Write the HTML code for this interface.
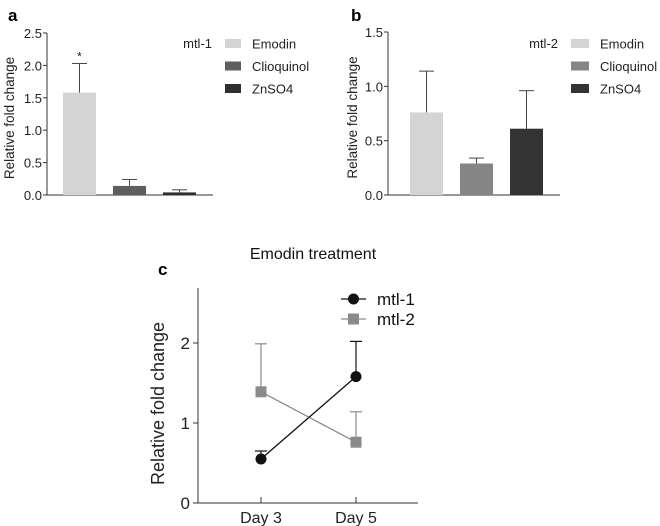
<!DOCTYPE html>
<html><head><meta charset="utf-8"><style>
html,body{margin:0;padding:0;background:#fff}
svg{display:block;font-family:"Liberation Sans",Arial,sans-serif}
</style></head><body>
<svg id="s" width="660" height="526" viewBox="0 0 660 526">
<text x="8" y="21" font-size="17" font-weight="bold">a</text>
<text x="351" y="21" font-size="17" font-weight="bold">b</text>
<text x="158" y="275" font-size="17" font-weight="bold">c</text>
<text x="313" y="259" font-size="16" text-anchor="middle" fill="#111">Emodin treatment</text>
</svg>
<script>
const NS="http://www.w3.org/2000/svg";
const svg=document.getElementById('s');
function mk(t,a,p){const e=document.createElementNS(NS,t);for(const k in a)e.setAttribute(k,a[k]);(p||svg).appendChild(e);return e;}

// Panel a data
const aCats=["Emodin","Clioquinol","ZnSO4"];
const aVals=[1.58,0.14,0.04];
const aErr=[2.03,0.24,0.08];
const aTicks=[0,0.5,1.0,1.5,2.0,2.5];
// Panel b data
const bCats=["Emodin","Clioquinol","ZnSO4"];
const bVals=[0.76,0.29,0.61];
const bErr=[1.14,0.34,0.96];
const bTicks=[0,0.5,1.0,1.5];
// Panel c data
const cCats=["Day 3","Day 5"];
const cMtl1=[0.55,1.58];
const cMtl1Err=[0.65,2.02];
const cMtl2=[1.39,0.76];
const cMtl2Err=[1.99,1.14];
const cTicks=[0,1,2];

function barPanel(o){
  const g=mk('g',{});
  
  
  const y=v=>o.y0-(v/o.max)*(o.y0-o.yTop);
  const bx=i=>o.x0+o.off+i*50;
  const ax=mk('line',{x1:o.x0,y1:o.yTop,x2:o.x0,y2:o.y0,stroke:'#333','stroke-width':1},g);
  
  const xa=mk('line',{x1:o.x0,y1:o.y0,x2:o.xEnd,y2:o.y0,stroke:'#333','stroke-width':1},g);
  
  o.ticks.forEach(t=>{
    mk('line',{x1:o.x0-4,x2:o.x0,y1:y(t),y2:y(t),stroke:'#333'},g);
    const tx=mk('text',{x:o.x0-5,y:y(t)+5,'font-size':13,'text-anchor':'end',fill:'#222'},g);
    tx.textContent=t.toFixed(1);
    
  });
  const yl=mk('text',{x:0,y:0,'font-size':13.5,'text-anchor':'middle',fill:'#222',transform:`translate(${o.ylx},${(o.y0+o.yTop)/2+4}) rotate(-90)`},g);
  yl.textContent='Relative fold change';
  
  o.vals.forEach((v,i)=>{
    const x=bx(i);
    mk('line',{x1:x+16.5,x2:x+16.5,y1:y(v),y2:y(o.err[i]),stroke:'#444'},g);
    mk('line',{x1:x+9,x2:x+24,y1:y(o.err[i]),y2:y(o.err[i]),stroke:'#444'},g);
    const r=mk('rect',{x:x,y:y(v),width:33,height:o.y0-y(v),fill:o.colors[i]},g);
    
    
  });
  if(o.star){const s=mk('text',{x:bx(0)+16.5,y:y(o.err[0])-3,'font-size':12,'text-anchor':'middle',fill:'#222'},g);s.textContent='*';
    }
  const lt=mk('text',{x:o.legX-13,y:48,'font-size':13,'text-anchor':'end',fill:'#222'},g);
  lt.textContent=o.gene;
  o.cats.forEach((c,i)=>{
    const sw=mk('rect',{x:o.legX,y:39+i*22.5,width:o.swW,height:9,fill:o.colors[i]},g);
    
    const t=mk('text',{x:o.legX+o.swW+11,y:48.5+i*22.5,'font-size':13,fill:'#222'},g);
    t.textContent=c;
  });
}
barPanel({name:'chart-a',x0:47,y0:195,yTop:33,max:2.5,xEnd:213,off:16,ylx:14,ticks:aTicks,vals:aVals,err:aErr,cats:aCats,
  colors:['#d4d4d4','#5e5e5e','#2e2e2e'],gene:'mtl-1',legX:225,swW:16,star:true});
barPanel({name:'chart-b',x0:388,y0:195,yTop:32,max:1.5,xEnd:560,off:22,ylx:357,ticks:bTicks,vals:bVals,err:bErr,cats:bCats,
  colors:['#d4d4d4','#858585','#333333'],gene:'mtl-2',legX:571,swW:18,star:false});

// Panel c
(function(){
  const g=mk('g',{});
  
  
  const x0=198,y0=503,yTop=288,xEnd=418;
  const y=v=>y0-v*80;
  const xs=i=>261+i*95;
  const ax=mk('line',{x1:x0,y1:yTop,x2:x0,y2:y0,stroke:'#333'},g);
  
  const xa=mk('line',{x1:x0,y1:y0,x2:xEnd,y2:y0,stroke:'#333'},g);
  
  cTicks.forEach(t=>{
    mk('line',{x1:x0-5,x2:x0,y1:y(t),y2:y(t),stroke:'#333'},g);
    const tx=mk('text',{x:x0-8,y:y(t)+6,'font-size':17,'text-anchor':'end',fill:'#222'},g);
    tx.textContent=t;
  });
  cCats.forEach((c,i)=>{
    mk('line',{x1:xs(i),x2:xs(i),y1:y0-6,y2:y0,stroke:'#333'},g);
    const tx=mk('text',{x:xs(i),y:y0+20,'font-size':16,'text-anchor':'middle',fill:'#222'},g);
    tx.textContent=c;
  });
  const yl=mk('text',{x:0,y:0,'font-size':18,'text-anchor':'middle',fill:'#222',transform:`translate(${x0-34},${(y0+yTop)/2+8}) rotate(-90)`},g);
  yl.textContent='Relative fold change';
  function series(vals,err,col,shape,name){
    vals.forEach((v,i)=>{
      mk('line',{x1:xs(i),x2:xs(i),y1:y(v),y2:y(err[i]),stroke:col,'stroke-width':1.2},g);
      mk('line',{x1:xs(i)-6,x2:xs(i)+6,y1:y(err[i]),y2:y(err[i]),stroke:col,'stroke-width':1.2},g);
    });
    const ln=mk('line',{x1:xs(0),y1:y(vals[0]),x2:xs(1),y2:y(vals[1]),stroke:col,'stroke-width':1.3},g);
    
    vals.forEach((v,i)=>{
      const m=shape==='c'?mk('circle',{cx:xs(i),cy:y(v),r:5.5,fill:col},g):mk('rect',{x:xs(i)-5.5,y:y(v)-5.5,width:11,height:11,fill:col},g);
      
    });
  }
  series(cMtl2,cMtl2Err,'#8a8a8a','s','mtl-2');
  series(cMtl1,cMtl1Err,'#111','c','mtl-1');
  [['mtl-1','#111','c'],['mtl-2','#8a8a8a','s']].forEach((l,i)=>{
    const yy=299+i*20;
    mk('line',{x1:341,x2:366,y1:yy,y2:yy,stroke:l[1],'stroke-width':1.3},g);
    if(l[2]==='c')mk('circle',{cx:353.5,cy:yy,r:5.5,fill:l[1]},g);else mk('rect',{x:348,y:yy-5.5,width:11,height:11,fill:l[1]},g);
    const t=mk('text',{x:377,y:yy+6,'font-size':17,fill:'#111'},g);
    t.textContent=l[0];
  });
})();
</script>
</body></html>
